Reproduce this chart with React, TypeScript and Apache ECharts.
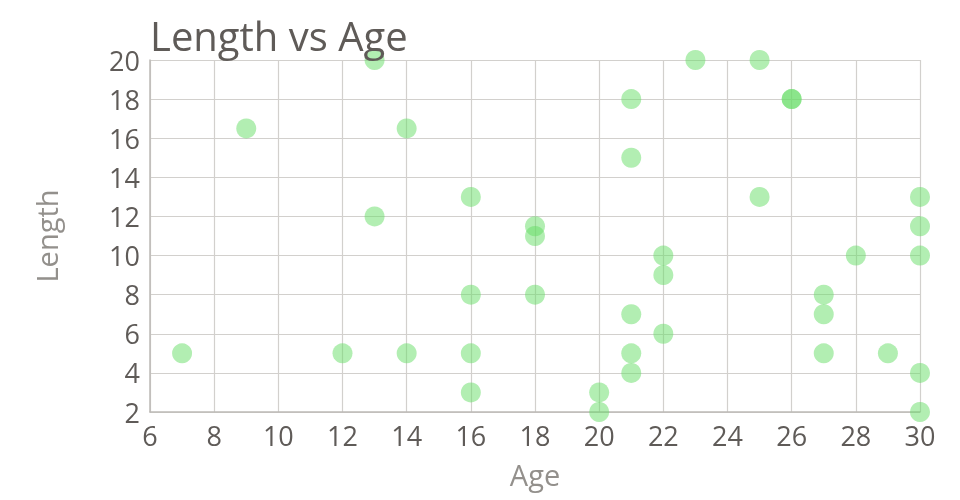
import React, { useEffect, useRef } from "react";
import * as echarts from "echarts";

const ages = [7, 9, 12, 13, 13, 14, 14, 16, 16, 16, 16, 18, 18, 18, 20, 20, 21, 21, 21, 21, 21, 22, 22, 22, 23, 25, 25, 26, 26, 27, 27, 27, 28, 29, 30, 30, 30, 30, 30];
const lengths = [5, 16.5, 5, 20, 12, 16.5, 5, 13, 8, 5, 3, 11.5, 11, 8, 3, 2, 18, 15, 7, 5, 4, 10, 9, 6, 20, 20, 13, 18, 18, 8, 7, 5, 10, 5, 13, 11.5, 10, 4, 2];

const titleText = "Length vs Age";
const xName = "Age";
const yName = "Length";

export default function App() {
  const ref = useRef<HTMLDivElement>(null);
  useEffect(() => {
    if (!ref.current) return;
    const chart = echarts.init(ref.current, null, { renderer: "svg" });
    const font = "'Open Sans', 'Noto Sans', sans-serif";
    const data = ages.map((a, i) => [a, lengths[i]]);
    chart.setOption({
      animation: false,
      textStyle: { fontFamily: font },
      title: {
        text: titleText,
        left: 145,
        top: 10,
        textStyle: { fontFamily: font, fontSize: 40, fontWeight: "normal", color: "#5f5b58" },
      },
      grid: { left: 150, right: 40, top: 60, bottom: 88, outerBoundsMode: "none" },
      xAxis: {
        type: "value",
        min: 6,
        max: 30,
        interval: 2,
        name: xName,
        nameLocation: "middle",
        nameGap: 48,
        nameMoveOverlap: false,
        nameTextStyle: { fontFamily: font, fontSize: 29, color: "#93908c" },
        axisLine: { show: true, lineStyle: { color: "#bdbab6", width: 1.5 } },
        axisTick: { show: false },
        axisLabel: { fontFamily: font, fontSize: 27, color: "#5f5b58", margin: 10 },
        splitLine: { show: true, lineStyle: { color: "#d2d0cd", width: 1.2 } },
      },
      yAxis: {
        type: "value",
        min: 2,
        max: 20,
        interval: 2,
        name: yName,
        nameLocation: "middle",
        nameGap: 89,
        nameMoveOverlap: false,
        nameTextStyle: { fontFamily: font, fontSize: 29, color: "#93908c" },
        axisLine: { show: true, lineStyle: { color: "#bdbab6", width: 1.5 } },
        axisTick: { show: false },
        axisLabel: { fontFamily: font, fontSize: 27, color: "#5f5b58", margin: 10 },
        splitLine: { show: true, lineStyle: { color: "#d2d0cd", width: 1.2 } },
      },
      series: [
        {
          type: "scatter",
          data,
          symbol: "circle",
          symbolSize: 20,
          itemStyle: { color: "#66dd66", opacity: 0.5 },
        },
      ],
    });
    return () => chart.dispose();
  }, []);
  return <div ref={ref} style={{ position: "fixed", left: 0, top: 0, width: 960, height: 500 }} />;
}
